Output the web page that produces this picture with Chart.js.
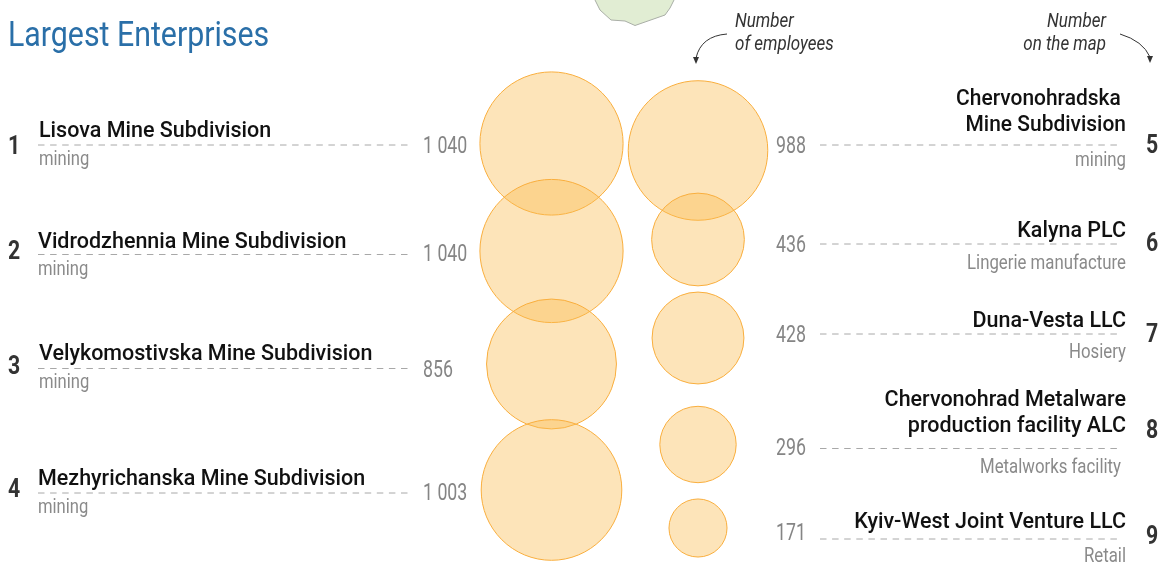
<!DOCTYPE html>
<html>
<head>
<meta charset="utf-8">
<title>Largest Enterprises</title>
<script src="https://cdn.jsdelivr.net/npm/chart.js@4"></script>
<style>
  html, body { margin: 0; padding: 0; background: #fff; overflow: hidden; }
  canvas { display: block; }
</style>
</head>
<body>
<canvas id="chart" width="1162" height="563"></canvas>
<script>
'use strict';

// data
const leftRanks = ['1', '2', '3', '4'];
const leftNames = [['Lisova Mine Subdivision'], ['Vidrodzhennia Mine Subdivision'], ['Velykomostivska Mine Subdivision'], ['Mezhyrichanska Mine Subdivision']];
const leftKinds = ['mining', 'mining', 'mining', 'mining'];
const leftEmployees = [1040, 1040, 856, 1003];

const rightRanks = ['5', '6', '7', '8', '9'];
const rightNames = [['Chervonohradska ', 'Mine Subdivision'], ['Kalyna PLC'], ['Duna-Vesta LLC'], ['Chervonohrad Metalware', 'production facility ALC'], ['Kyiv-West Joint Venture LLC']];
const rightKinds = ['mining', 'Lingerie manufacture', 'Hosiery', 'Metalworks facility', 'Retail'];
const rightEmployees = [988, 436, 428, 296, 171];

// bubble centres, in axis units (the axes run 1:1 with the page)
const leftColumn = 551.5;
const rightColumn = 698;
const leftRows = [143.5, 251, 364, 490];
const rightRows = [150.5, 239.5, 338, 444.5, 528];

// label layout, one entry per row
const leftLines = [145, 254.5, 368.5, 493];
const leftNameY = [136.5, 247.5, 359.5, 484.5];
const leftKindY = [165, 275, 388, 513];
const leftValueY = [153, 261, 377, 500];
const leftRankY = [145, 250, 365, 488];
const leftTextX = [39, 38, 39, 38];

const rightLines = [145, 244, 334, 448.5, 539];
const rightLineEnd = [1122, 1122, 1122, 1122, 1118];
const rightNameY = [130.5, 236.5, 326.5, 431.5, 528];
const rightNameSqueeze = [0.975, 1, 1, 1, 1];
const rightKindY = [166, 269, 358, 473, 562];
const rightKindX = [1126, 1126, 1126, 1121, 1126];
const rightValueY = [153, 252, 342, 455, 540];
const rightRankY = [144, 242, 333, 429, 535];

const bubbleScale = 2.22;

function bubbles(values, column, rows) {
  return values.map((v, i) => ({ x: column, y: rows[i], r: bubbleScale * Math.sqrt(v) }));
}

function formatValue(v) {
  return v >= 1000 ? Math.floor(v / 1000) + ' ' + String(v % 1000).padStart(3, '0') : String(v);
}

// text squeezed sideways, the installed fonts are wider than the original one
function label(ctx, text, x, y, font, color, align, squeeze) {
  ctx.save();
  ctx.translate(x, y);
  ctx.scale(squeeze || 1, 1);
  ctx.font = font;
  ctx.fillStyle = color;
  ctx.textAlign = align || 'left';
  ctx.textBaseline = 'alphabetic';
  ctx.fillText(text, 0, 0);
  ctx.restore();
}

function leader(ctx, x1, x2, y) {
  ctx.save();
  ctx.strokeStyle = '#a8a8a8';
  ctx.lineWidth = 1;
  ctx.setLineDash([6.5, 5.6]);
  ctx.beginPath();
  ctx.moveTo(x1, y);
  ctx.lineTo(x2, y);
  ctx.stroke();
  ctx.restore();
}

function arrow(ctx, x1, y1, cx, cy, x2, y2) {
  ctx.save();
  ctx.strokeStyle = '#333';
  ctx.fillStyle = '#333';
  ctx.lineWidth = 1;
  ctx.beginPath();
  ctx.moveTo(x1, y1);
  ctx.quadraticCurveTo(cx, cy, x2, y2);
  ctx.stroke();
  ctx.beginPath();
  ctx.moveTo(x2 - 3, y2 - 1);
  ctx.lineTo(x2 + 3, y2 - 1);
  ctx.lineTo(x2, y2 + 6);
  ctx.closePath();
  ctx.fill();
  ctx.restore();
}

const NAME_FONT = '500 21.5px Roboto';
const KIND_FONT = '400 20px Roboto';
const VALUE_FONT = '400 24px Roboto';
const RANK_FONT = '700 25px Roboto';
const NOTE_FONT = 'italic 400 20px Roboto';

const pagePlugin = {
  id: 'page',
  beforeDatasetsDraw(chart) {
    const ctx = chart.ctx;
    // corner of the map that sticks into the top of the panel
    ctx.save();
    ctx.fillStyle = '#e1edd3';
    ctx.strokeStyle = '#a9aea6';
    ctx.lineWidth = 1;
    ctx.beginPath();
    ctx.moveTo(595, 0);
    ctx.lineTo(600, 10);
    ctx.lineTo(611, 20);
    ctx.lineTo(625, 21);
    ctx.lineTo(635, 25.5);
    ctx.lineTo(665, 15);
    ctx.lineTo(670, 8);
    ctx.lineTo(674, 0);
    ctx.fill();
    ctx.stroke();
    ctx.restore();
  },
  afterDatasetsDraw(chart) {
    const ctx = chart.ctx;
    label(ctx, 'Largest Enterprises', 8, 46, '400 35px Roboto', '#2a6fa8', 'left', 0.866);

    leftNames.forEach((name, i) => {
      leader(ctx, 38, 408, leftLines[i]);
      label(ctx, leftRanks[i], 8, leftRankY[i] + 9, RANK_FONT, '#333', 'left', 0.85);
      label(ctx, name[0], leftTextX[i], leftNameY[i], NAME_FONT, '#111');
      label(ctx, leftKinds[i], leftTextX[i], leftKindY[i], KIND_FONT, '#8a8a8a', 'left', 0.83);
      label(ctx, formatValue(leftEmployees[i]), 423, leftValueY[i], VALUE_FONT, '#858585', 'left', 0.74);
    });

    rightNames.forEach((name, i) => {
      leader(ctx, 820, rightLineEnd[i], rightLines[i]);
      label(ctx, rightRanks[i], 1146, rightRankY[i] + 9, RANK_FONT, '#333', 'left', 0.85);
      name.forEach((line, j) => {
        label(ctx, line, 1126, rightNameY[i] - (name.length - 1 - j) * 25.5, NAME_FONT, '#111', 'right', rightNameSqueeze[i]);
      });
      label(ctx, rightKinds[i], rightKindX[i], rightKindY[i], KIND_FONT, '#8a8a8a', 'right', 0.84);
      label(ctx, formatValue(rightEmployees[i]), 776, rightValueY[i], VALUE_FONT, '#858585', 'left', 0.74);
    });

    label(ctx, 'Number', 735, 27, NOTE_FONT, '#333', 'left', 0.85);
    label(ctx, 'of employees', 735, 49.5, NOTE_FONT, '#333', 'left', 0.85);
    label(ctx, 'Number', 1106, 27, NOTE_FONT, '#333', 'right', 0.85);
    label(ctx, 'on the map', 1106, 49.5, NOTE_FONT, '#333', 'right', 0.85);
    arrow(ctx, 727, 34, 701, 36, 696, 58);
    arrow(ctx, 1120, 34, 1143, 41, 1150, 57);
  }
};

const bubbleStyle = {
  backgroundColor: 'rgba(250, 187, 80, 0.4)',
  borderColor: '#f9ae3d',
  borderWidth: 1,
  clip: false
};

new Chart(document.getElementById('chart'), {
  type: 'bubble',
  data: {
    datasets: [
      { label: 'Left column', data: bubbles(leftEmployees, leftColumn, leftRows), ...bubbleStyle },
      { label: 'Right column', data: bubbles(rightEmployees, rightColumn, rightRows), ...bubbleStyle }
    ]
  },
  options: {
    responsive: false,
    animation: false,
    events: [],
    layout: { padding: 0, autoPadding: false },
    scales: {
      x: { type: 'linear', min: 0, max: 1162, display: false },
      y: { type: 'linear', min: 0, max: 563, reverse: true, display: false }
    },
    plugins: {
      legend: { display: false },
      tooltip: { enabled: false }
    }
  },
  plugins: [pagePlugin]
});
</script>
</body>
</html>
